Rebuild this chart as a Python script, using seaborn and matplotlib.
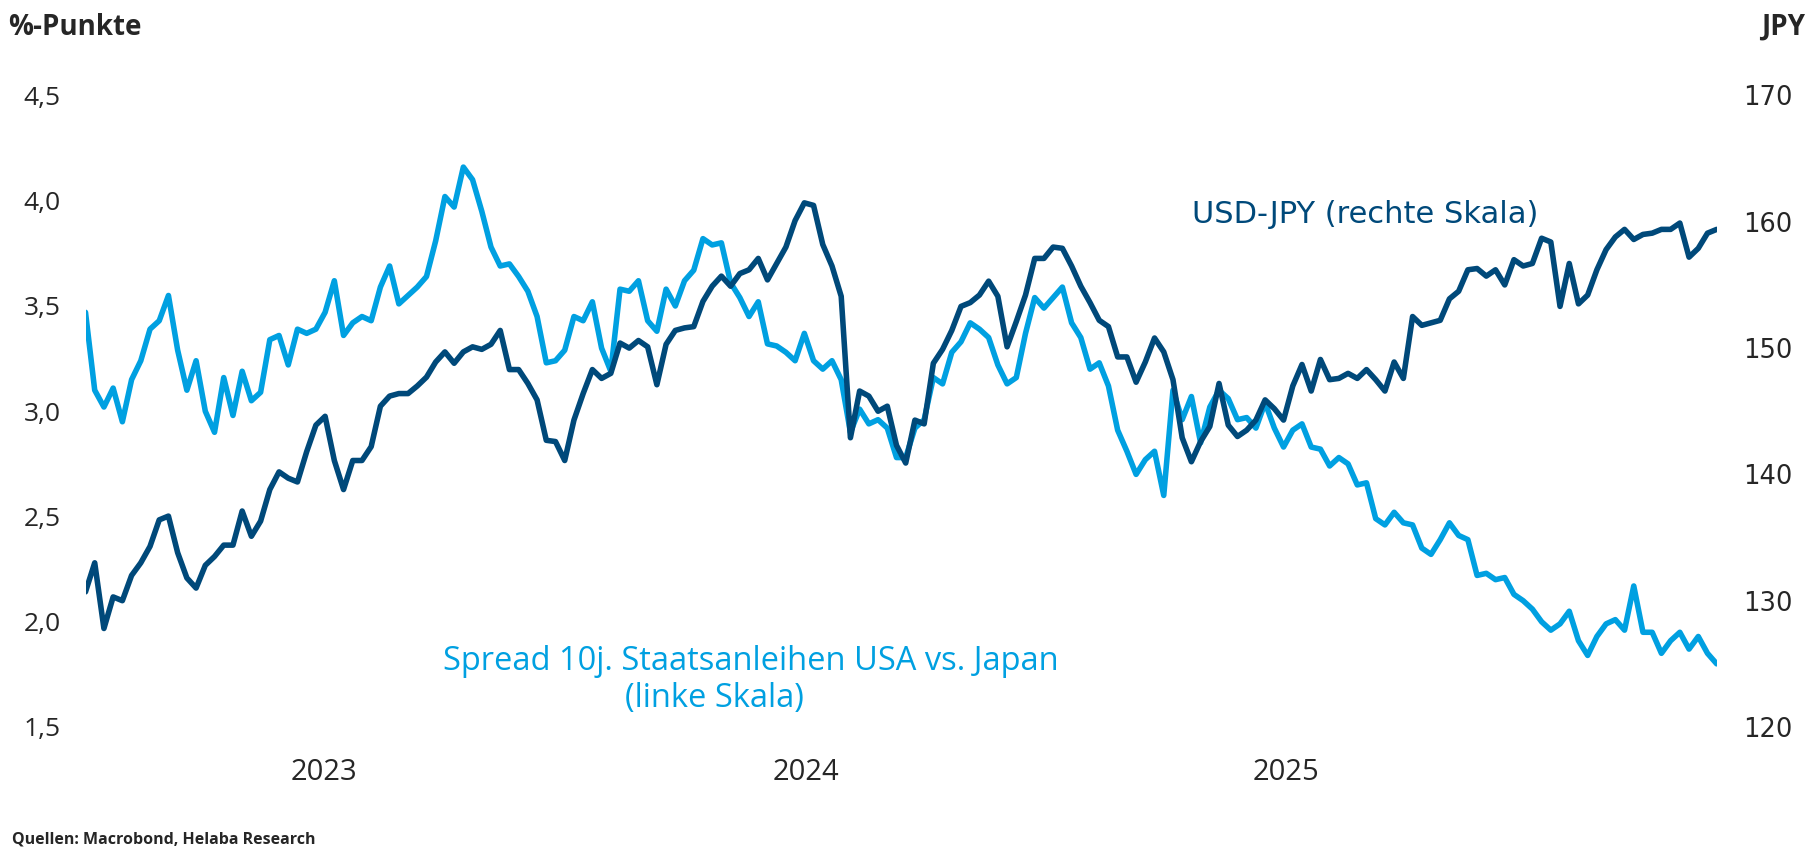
import pandas as pd
import matplotlib
matplotlib.use("Agg")
import matplotlib.pyplot as plt
import seaborn as sns

# weekly observations, first week 2023-01-02
start_date = "2023-01-02"

# Spread 10j. Staatsanleihen USA vs. Japan, %-Punkte (linke Skala)
spread = [
    3.47, 3.10, 3.02, 3.11, 2.95, 3.15, 3.24, 3.39, 3.43, 3.55,
    3.29, 3.10, 3.24, 3.00, 2.90, 3.16, 2.98, 3.19, 3.05, 3.09,
    3.34, 3.36, 3.22, 3.39, 3.37, 3.39, 3.47, 3.62, 3.36, 3.42,
    3.45, 3.43, 3.59, 3.69, 3.51, 3.55, 3.59, 3.64, 3.81, 4.02,
    3.97, 4.16, 4.10, 3.95, 3.78, 3.69, 3.70, 3.64, 3.57, 3.45,
    3.23, 3.24, 3.29, 3.45, 3.43, 3.52, 3.30, 3.19, 3.58, 3.57,
    3.62, 3.43, 3.38, 3.58, 3.50, 3.62, 3.67, 3.82, 3.79, 3.80,
    3.61, 3.54, 3.45, 3.52, 3.32, 3.31, 3.28, 3.24, 3.37, 3.24,
    3.20, 3.24, 3.15, 2.90, 3.01, 2.94, 2.96, 2.92, 2.78, 2.78,
    2.92, 2.96, 3.16, 3.13, 3.28, 3.33, 3.42, 3.39, 3.35, 3.22,
    3.13, 3.16, 3.37, 3.54, 3.49, 3.54, 3.59, 3.42, 3.35, 3.20,
    3.23, 3.12, 2.91, 2.81, 2.70, 2.77, 2.81, 2.60, 3.10, 2.96,
    3.07, 2.85, 3.02, 3.10, 3.06, 2.96, 2.97, 2.92, 3.04, 2.92,
    2.83, 2.91, 2.94, 2.83, 2.82, 2.74, 2.78, 2.75, 2.65, 2.66,
    2.49, 2.46, 2.52, 2.47, 2.46, 2.35, 2.32, 2.39, 2.47, 2.41,
    2.39, 2.22, 2.23, 2.20, 2.21, 2.13, 2.10, 2.06, 2.00, 1.96,
    1.99, 2.05, 1.91, 1.84, 1.93, 1.99, 2.01, 1.96, 2.17, 1.95,
    1.95, 1.85, 1.91, 1.95, 1.87, 1.93, 1.85, 1.80,
]

# USD-JPY (rechte Skala)
usdjpy = [
    130.7, 133.0, 127.8, 130.3, 130.0, 132.0, 133.0, 134.3, 136.4, 136.7,
    133.8, 131.8, 131.0, 132.8, 133.5, 134.4, 134.4, 137.1, 135.1, 136.3,
    138.8, 140.2, 139.7, 139.4, 141.8, 143.9, 144.6, 141.1, 138.8, 141.1,
    141.1, 142.2, 145.4, 146.2, 146.4, 146.4, 147.0, 147.7, 148.9, 149.7,
    148.8, 149.7, 150.1, 149.9, 150.3, 151.4, 148.3, 148.3, 147.2, 145.9,
    142.7, 142.6, 141.1, 144.3, 146.4, 148.3, 147.6, 148.0, 150.4, 150.0,
    150.6, 150.1, 147.1, 150.3, 151.4, 151.6, 151.7, 153.7, 154.9, 155.7,
    154.9, 155.9, 156.2, 157.1, 155.4, 156.7, 158.0, 160.1, 161.5, 161.3,
    158.2, 156.5, 154.1, 142.9, 146.6, 146.2, 145.0, 145.4, 142.3, 140.9,
    144.3, 144.0, 148.8, 149.9, 151.4, 153.3, 153.6, 154.2, 155.3, 154.1,
    150.1, 152.1, 154.2, 157.1, 157.1, 158.0, 157.9, 156.5, 154.9, 153.6,
    152.2, 151.7, 149.3, 149.3, 147.3, 148.9, 150.8, 149.7, 147.5, 142.9,
    141.0, 142.6, 143.8, 147.2, 143.9, 143.0, 143.5, 144.3, 145.9, 145.2,
    144.3, 147.0, 148.7, 146.6, 149.1, 147.5, 147.6, 148.0, 147.6, 148.3,
    147.5, 146.6, 148.9, 147.6, 152.5, 151.8, 152.0, 152.2, 153.9, 154.5,
    156.2, 156.3, 155.7, 156.2, 155.0, 157.0, 156.5, 156.7, 158.7, 158.4,
    153.3, 156.7, 153.5, 154.2, 156.2, 157.8, 158.8, 159.4, 158.6, 159.0,
    159.1, 159.4, 159.4, 159.9, 157.2, 157.9, 159.1, 159.4,
]

year_labels = ["2023", "2024", "2025"]
left_ticks = [1.5, 2.0, 2.5, 3.0, 3.5, 4.0, 4.5]
right_ticks = [120, 130, 140, 150, 160, 170]

DARK = "#00497a"
LIGHT = "#00a0e1"

df = pd.DataFrame({
    "datum": pd.date_range(start_date, periods=len(spread), freq="7D"),
    "spread": spread,
    "usdjpy": usdjpy,
})

sns.set_style("white")
plt.rcParams["font.family"] = ["Open Sans", "DejaVu Sans"]

fig = plt.figure(figsize=(18.18, 8.55), dpi=100)
ax = fig.add_axes([0.04703, 0.14971, 0.89725, 0.73860])
ax2 = ax.twinx()

sns.lineplot(data=df, x="datum", y="spread", ax=ax, color=LIGHT, linewidth=4.0)
sns.lineplot(data=df, x="datum", y="usdjpy", ax=ax2, color=DARK, linewidth=4.0)

ax.set_xlim(df["datum"].iloc[0], df["datum"].iloc[-1])
ax.set_ylim(1.5, 4.5)
ax2.set_ylim(120, 170)

ax.set_yticks(left_ticks)
ax.set_yticklabels([f"{v:.1f}".replace(".", ",") for v in left_ticks])
ax2.set_yticks(right_ticks)
ax2.set_yticklabels([str(v) for v in right_ticks], family="DejaVu Sans", fontsize=18.5)

year_pos = pd.to_datetime([f"{y}-07-02" for y in year_labels])
ax.set_xticks(year_pos)
ax.set_xticklabels(year_labels, fontsize=21)

ax.tick_params(axis="y", length=0, pad=18, labelsize=19)
ax.tick_params(axis="x", length=0, pad=22)
ax2.tick_params(axis="y", length=0, pad=19)

for a in (ax, ax2):
    a.set_xlabel("")
    a.set_ylabel("")
    a.grid(False)
    for s in a.spines.values():
        s.set_visible(False)

fig.text(8 / 1818, 1 - 35 / 855, "%-Punkte", fontsize=20, fontweight="bold",
         ha="left", va="baseline")
fig.text(1805 / 1818, 1 - 35 / 855, "JPY", fontsize=20, fontweight="bold",
         ha="right", va="baseline")
fig.text(1192 / 1818, 1 - 223 / 855, "USD-JPY (rechte Skala)", color=DARK,
         family="DejaVu Sans", fontsize=22, ha="left", va="baseline")
fig.text(443 / 1818, 1 - 670 / 855, "Spread 10j. Staatsanleihen USA vs. Japan",
         color=LIGHT, fontsize=23.5, ha="left", va="baseline")
fig.text(625 / 1818, 1 - 707 / 855, "(linke Skala)", color=LIGHT, fontsize=23.5,
         ha="left", va="baseline")
fig.text(12 / 1818, 1 - 843 / 855, "Quellen: Macrobond, Helaba Research",
         fontsize=11.5, fontweight="bold", ha="left", va="baseline")

fig.savefig("out.png", dpi=100)
